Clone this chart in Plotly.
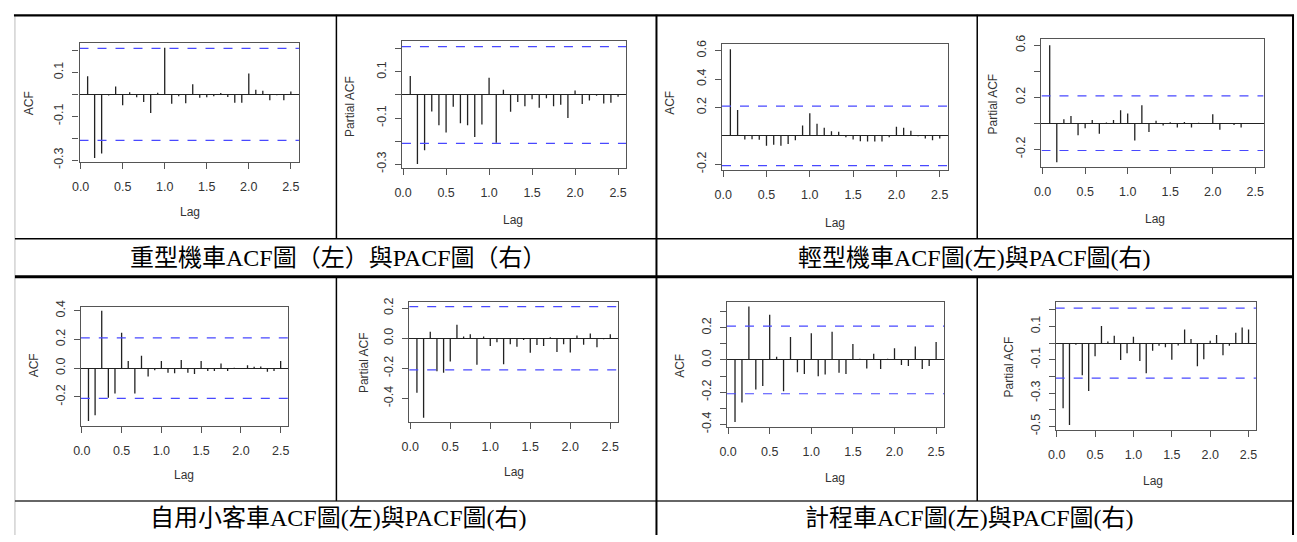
import plotly.graph_objects as go

# ---------------- data ----------------
LAG_MONTHS = list(range(1, 31))   # lags 1..30 months
FREQ = 12                          # lag axis shown in years
X_TICKS = [0.0, 0.5, 1.0, 1.5, 2.0, 2.5]
X_TICK_TEXT = ["0.0", "0.5", "1.0", "1.5", "2.0", "2.5"]

HEAVY_ACF = [0.083, -0.29, -0.27, -0.005, 0.036, -0.05, 0.01, -0.013, -0.035, -0.085,
             0.007, 0.213, -0.043, -0.009, -0.041, 0.046, -0.016, -0.013, -0.009, 0.006,
             -0.012, -0.038, -0.038, 0.095, 0.021, 0.016, -0.027, -0.004, -0.027, 0.013]
HEAVY_PACF = [0.082, -0.30, -0.24, -0.072, -0.131, -0.163, -0.051, -0.123, -0.131, -0.182,
              -0.128, 0.075, -0.207, 0.023, -0.073, -0.031, -0.049, -0.018, -0.056, -0.014,
              -0.049, -0.042, -0.10, 0.02, -0.039, -0.024, -0.003, -0.037, -0.034, -0.008]
LIGHT_ACF = [0.61, 0.183, -0.025, -0.023, -0.027, -0.069, -0.062, -0.069, -0.057, -0.03,
             0.073, 0.16, 0.085, 0.057, 0.032, 0.03, -0.009, -0.025, -0.037, -0.039,
             -0.039, -0.039, -0.009, 0.064, 0.057, 0.037, -0.003, -0.018, -0.03, -0.018]
LIGHT_PACF = [0.60, -0.30, 0.03, 0.055, -0.093, -0.038, 0.025, -0.08, 0.005, 0.025,
              0.10, 0.075, -0.133, 0.138, -0.068, 0.02, -0.018, 0.008, -0.033, 0.01,
              -0.033, 0.003, -0.002, 0.07, -0.05, 0.002, -0.013, -0.033, 0.002, -0.002]
PRIVATE_ACF = [-0.368, -0.328, 0.40, -0.206, -0.176, 0.246, 0.05, -0.176, 0.086, -0.059,
               -0.014, 0.05, -0.032, -0.036, 0.056, -0.032, -0.041, 0.05, -0.02, -0.02,
               0.032, -0.02, 0.003, -0.003, 0.02, 0.009, 0.011, -0.025, -0.02, 0.05]
PRIVATE_PACF = [-0.363, -0.529, 0.043, -0.22, -0.229, -0.155, 0.09, 0.011, 0.026, -0.177,
                0.011, -0.052, -0.026, -0.173, -0.039, -0.056, -0.011, -0.097, -0.045, -0.052,
                0.006, -0.091, -0.039, -0.095, 0.019, -0.043, 0.032, -0.06, -0.006, 0.026]
TAXI_ACF = [-0.386, -0.265, 0.333, -0.184, -0.162, 0.281, 0.02, -0.194, 0.143, -0.077,
            -0.087, 0.166, -0.101, -0.091, 0.176, -0.079, -0.087, 0.099, 0.008, -0.053,
            0.038, -0.057, 0.008, 0.073, -0.032, -0.038, 0.083, -0.057, -0.038, 0.111]
TAXI_PACF = [-0.39, -0.491, -0.01, -0.193, -0.287, -0.078, 0.103, 0.01, 0.045, -0.101,
             -0.06, 0.039, -0.107, -0.181, -0.045, -0.016, -0.025, -0.099, -0.014, 0.082,
             0.025, -0.138, -0.096, 0.014, 0.049, -0.072, -0.016, 0.062, 0.094, 0.082]

CI = [0.21, 0.21, 0.21, 0.21, 0.21, 0.21, 0.21, 0.21]

Y_TICKS_A = [-0.3, -0.2, -0.1, 0.0, 0.1, 0.2]
Y_TEXT_A = ["-0.3", "", "-0.1", "", "0.1", ""]
Y_TICKS_LA = [-0.2, 0.2, 0.4, 0.6]
Y_TEXT_LA = ["-0.2", "0.2", "0.4", "0.6"]
Y_TICKS_LP = [-0.2, 0.0, 0.2, 0.4, 0.6]
Y_TEXT_LP = ["-0.2", "", "0.2", "", "0.6"]
Y_TICKS_PA = [-0.2, 0.0, 0.2, 0.4]
Y_TEXT_PA = ["-0.2", "0.0", "0.2", "0.4"]
Y_TICKS_PP = [-0.4, -0.2, 0.0, 0.2]
Y_TEXT_PP = ["-0.4", "-0.2", "0.0", "0.2"]
Y_TICKS_TA = [-0.4, -0.3, -0.2, -0.1, 0.0, 0.1, 0.2, 0.3]
Y_TEXT_TA = ["-0.4", "", "-0.2", "", "0.0", "", "0.2", ""]
Y_TICKS_TP = [-0.5, -0.4, -0.3, -0.2, -0.1, 0.0, 0.1, 0.2]
Y_TEXT_TP = ["-0.5", "", "-0.3", "", "-0.1", "", "0.1", ""]

CAPTIONS = ["重型機車ACF圖（左）與PACF圖（右）", "輕型機車ACF圖(左)與PACF圖(右)",
            "自用小客車ACF圖(左)與PACF圖(右)", "計程車ACF圖(左)與PACF圖(右)"]

# ---------------- layout helpers ----------------
W, H = 1297, 542
XR = [-0.0133, 2.5967]


def px(x):
    return x / W


def py(y):
    return 1 - y / H


# panel: values, ylabel, box(l, r, t, b) in px, yrange, yticks, ytext, ylabel pos, lag pos
panels = [
    (HEAVY_ACF, "ACF", (72, 293, 37, 159), [-0.308, 0.234], Y_TICKS_A, Y_TEXT_A, (22, 99), (183, 210)),
    (HEAVY_PACF, "Partial ACF", (396.7, 622.7, 35, 165), [-0.316, 0.234], Y_TICKS_A, Y_TEXT_A, (345, 102), (509, 219)),
    (LIGHT_ACF, "ACF", (719, 946.7, 38.3, 167.3), [-0.24, 0.645], Y_TICKS_LA, Y_TEXT_LA, (667, 98), (833, 222)),
    (LIGHT_PACF, "Partial ACF", (1040.7, 1264.3, 33.3, 164), [-0.335, 0.645], Y_TICKS_LP, Y_TEXT_LP, (992, 100), (1155, 218)),
    (PRIVATE_ACF, "ACF", (73.3, 282.3, 307.7, 430), [-0.402, 0.427], Y_TICKS_PA, Y_TEXT_PA, (27, 368), (177, 480)),
    (PRIVATE_PACF, "Partial ACF", (404, 614.3, 302.7, 425.7), [-0.555, 0.242], Y_TICKS_PP, Y_TEXT_PP, (358, 365), (510, 477)),
    (TAXI_ACF, "ACF", (724, 942.7, 302.7, 431), [-0.416, 0.361], Y_TICKS_TA, Y_TEXT_TA, (677, 368), (833, 484)),
    (TAXI_PACF, "Partial ACF", (1055, 1256.7, 303.3, 434), [-0.52, 0.244], Y_TICKS_TP, Y_TEXT_TP, (1008, 370), (1153, 487)),
]

AX_FONT = dict(family="Liberation Sans, Arial, sans-serif", size=12, color="#333")
TICK_FONT = dict(family="Liberation Sans, Arial, sans-serif", size=12.5, color="#333")
fig = go.Figure()
layout = dict(autosize=True, margin=dict(l=0, r=0, t=0, b=0, pad=0),
              paper_bgcolor="white", plot_bgcolor="white", showlegend=False)
annotations = []
shapes = []

for i, (vals, ylab, box, yr, yt, ytt, ylpos, lagpos) in enumerate(panels):
    n = i + 1
    xs, ys = [], []
    for m, v in zip(LAG_MONTHS, vals):
        xs += [m / FREQ, m / FREQ, None]
        ys += [0, v, None]
    fig.add_trace(go.Scatter(x=xs, y=ys, mode="lines", line=dict(color="#222", width=1.3),
                             xaxis=f"x{n}", yaxis=f"y{n}", hoverinfo="skip"))
    ci = CI[i]
    fig.add_trace(go.Scatter(x=[XR[0], XR[1], None, XR[0], XR[1]], y=[ci, ci, None, -ci, -ci],
                             mode="lines", line=dict(color="#4848ff", width=1.2, dash="dash"),
                             xaxis=f"x{n}", yaxis=f"y{n}", hoverinfo="skip"))
    l, r, t, b = box
    kx = "xaxis" if n == 1 else f"xaxis{n}"
    ky = "yaxis" if n == 1 else f"yaxis{n}"
    layout[kx] = dict(domain=[px(l), px(r)], range=XR, anchor=f"y{n}",
                      tickvals=X_TICKS, ticktext=X_TICK_TEXT, ticks="outside", ticklen=6,
                      tickcolor="#555", tickwidth=1, showline=True, mirror=True,
                      linecolor="#555", linewidth=1.2, showgrid=False, zeroline=False,
                      tickfont=TICK_FONT, ticklabelstandoff=7)
    layout[ky] = dict(domain=[py(b), py(t)], range=yr, anchor=f"x{n}",
                      tickvals=yt, ticktext=ytt, tickangle=-90, ticks="outside", ticklen=6,
                      tickcolor="#555", tickwidth=1, showline=True, mirror=True,
                      linecolor="#555", linewidth=1.2, showgrid=False, zeroline=True,
                      zerolinecolor="#222", zerolinewidth=1.3, tickfont=TICK_FONT,
                      ticklabelstandoff=4)
    annotations.append(dict(x=px(ylpos[0]), y=py(ylpos[1]), xref="paper", yref="paper",
                            text=ylab, textangle=-90, showarrow=False, font=AX_FONT,
                            xanchor="center", yanchor="middle"))
    annotations.append(dict(x=px(lagpos[0]), y=py(lagpos[1]), xref="paper", yref="paper",
                            text="Lag", showarrow=False, font=AX_FONT,
                            xanchor="center", yanchor="middle"))

CAP_FONT = dict(family="Liberation Serif, Noto Sans CJK TC, serif", size=24, color="#000")
cap_pos = [(333, 258), (973, 258), (333, 525), (968, 525)]
for text, (cx, cy) in zip(CAPTIONS, cap_pos):
    annotations.append(dict(x=px(cx), y=py(cy), xref="paper", yref="paper", text=text,
                            showarrow=False, font=CAP_FONT, xanchor="center", yanchor="middle"))


def hline(y, x0, x1, w, c="#000"):
    shapes.append(dict(type="line", xref="paper", yref="paper", x0=px(x0), x1=px(x1),
                       y0=py(y), y1=py(y), line=dict(color=c, width=w)))


def vline(x, y0, y1, w, c="#000"):
    shapes.append(dict(type="line", xref="paper", yref="paper", x0=px(x), x1=px(x),
                       y0=py(y0), y1=py(y1), line=dict(color=c, width=w)))


vline(7, 8, 542, 1, "#bbbbbb")
hline(8.5, 6, 1295, 2.2)
hline(238, 7, 1294, 1.5)
hline(277, 7, 1294, 3)
hline(507, 7, 1294, 1.5, "#333")
vline(330.7, 8, 238, 1.5)
vline(330.7, 277, 507, 1.5)
vline(653, 8, 542, 2)
vline(976, 8, 238, 1.5)
vline(976, 277, 507, 1.5)
vline(1294, 8, 542, 2)

layout["annotations"] = annotations
layout["shapes"] = shapes
fig.update_layout(**layout)
fig.write_html("out.html", config={"displayModeBar": False},
               default_width=f"{W}px; position:absolute; left:0; top:0",
               default_height=f"{H}px",
               post_script="document.body.style.margin='0';document.body.style.overflow='hidden';")
